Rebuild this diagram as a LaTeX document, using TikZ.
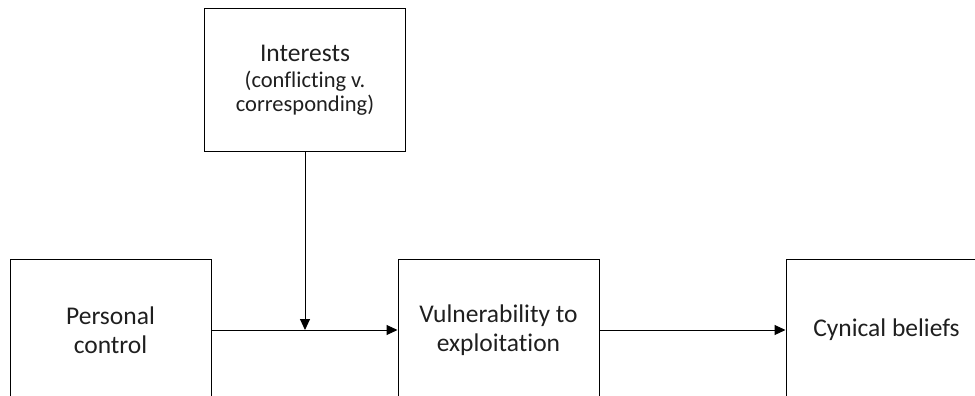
\documentclass[tikz,border=0pt]{standalone}
\usepackage{fontspec}
\setmainfont{Carlito}[RawFeature={-liga;-calt;-dlig;-clig}]
\usetikzlibrary{arrows.meta}

\definecolor{inkgrey}{HTML}{1F1F1F}

\tikzset{
  box/.style={draw=black, line width=1pt, minimum width=201pt, minimum height=142pt,
    inner sep=0pt, align=center, text=inkgrey,
    font=\fontsize{25.5}{29}\selectfont},
  link/.style={draw=black, line width=1pt, -{Triangle[length=11pt, width=10pt]}}
}
\newcommand{\subline}[1]{{\fontsize{22.5}{24}\selectfont #1}}

\begin{document}
\begin{tikzpicture}[x=1pt, y=-1pt]
  \useasboundingbox (0,0) rectangle (975,396);

  % boxes
  \node[box] (interests) at (305,80)
    {Interests\\[-3pt]\subline{(conflicting v.}\\[-5pt]\subline{corresponding)}};
  \node[box] (personal) at (110.5,330) {Personal\\control};
  \node[box] (vulner) at (498.5,330) {Vulnerability to\\exploitation};
  \node[box] (cynical) at (886.5,330) {Cynical beliefs};

  % moderator meets the main path here
  \coordinate (join) at (interests.south |- personal.east);

  % connectors
  \draw[link] (personal.east) -- (vulner.west);
  \draw[link] (interests.south) -- (join);
  \draw[link] (vulner.east) -- (cynical.west);
\end{tikzpicture}
\end{document}
